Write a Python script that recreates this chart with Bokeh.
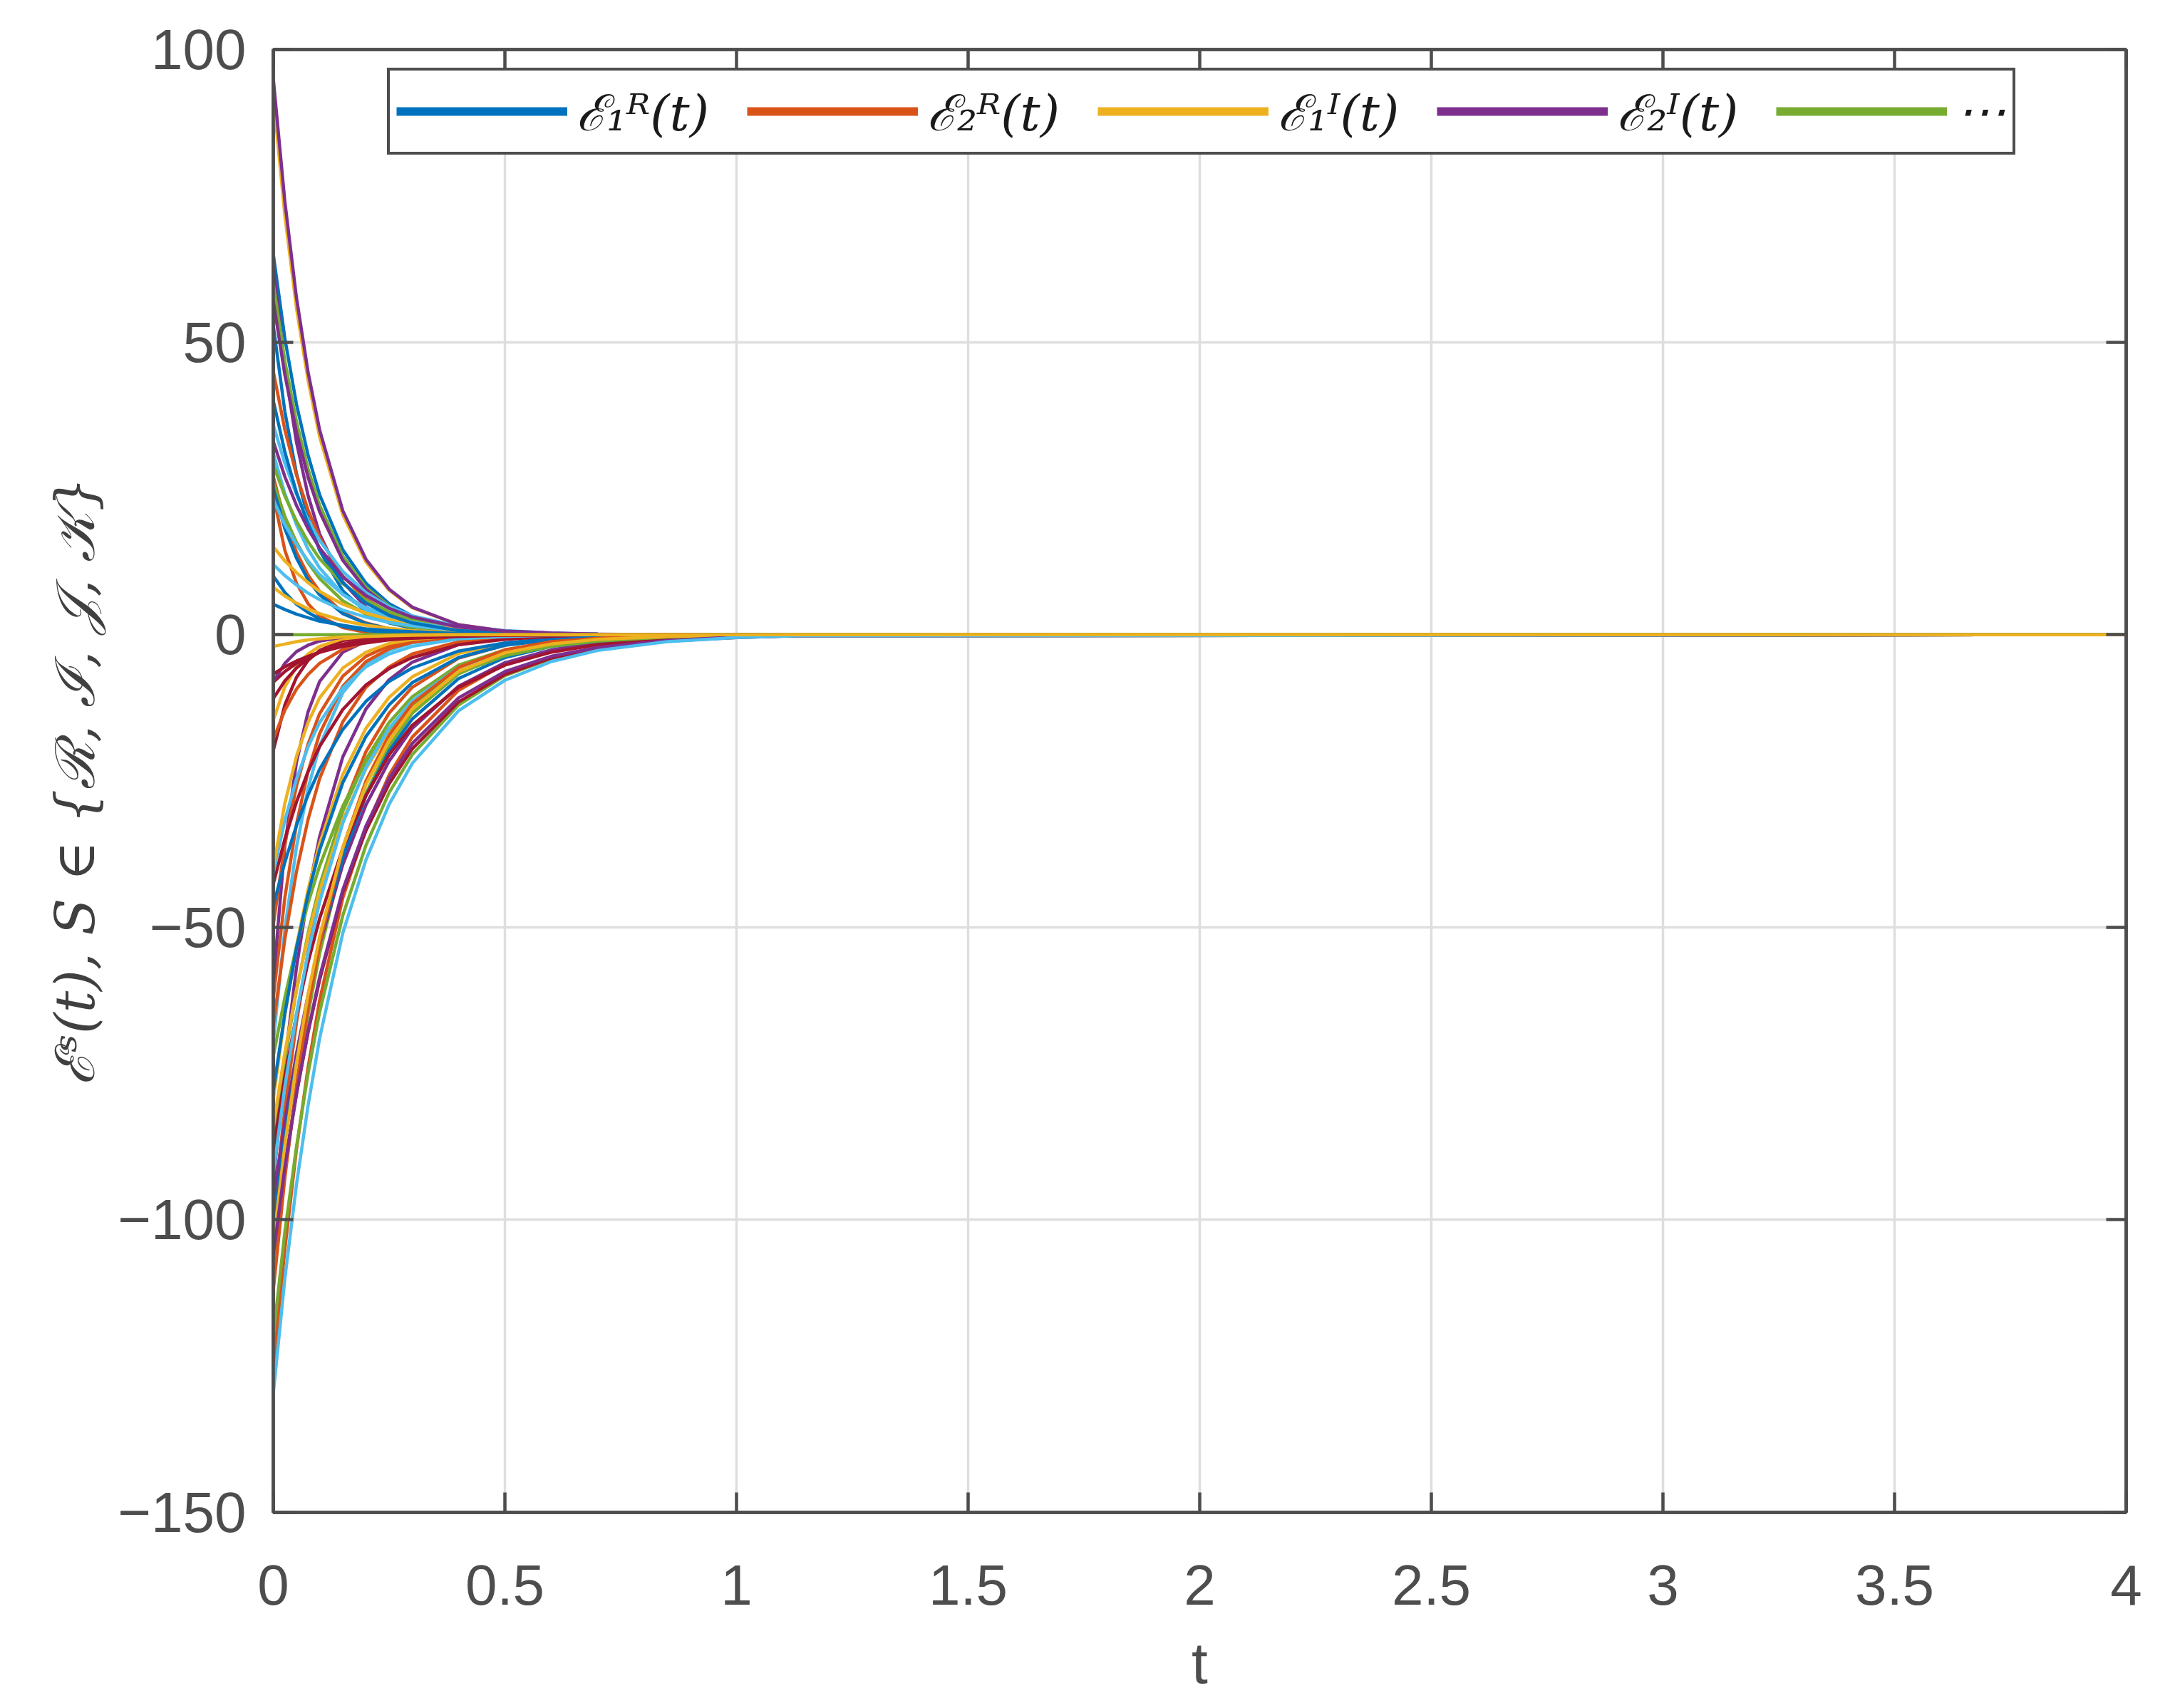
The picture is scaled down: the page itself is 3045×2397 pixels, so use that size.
from bokeh.plotting import figure
from bokeh.models import Range1d, FixedTicker, LinearAxis, Legend, LegendItem
from bokeh.embed import file_html
from bokeh.resources import INLINE

# ---------------- data ----------------
t_values = [0, 0.025, 0.05, 0.075, 0.1, 0.15, 0.2, 0.25, 0.3, 0.4, 0.5, 0.6, 0.7, 0.85, 1.0, 1.13, 4.0]

palette = {"b": "#0072BD", "o": "#D95319", "y": "#EDB120", "p": "#7E2F8E",
           "g": "#77AC30", "c": "#4DBEEE", "r": "#A2142F"}

positive_colors = ["y", "b", "p", "g", "p", "b", "o", "c", "c", "g", "o", "g", "b", "o", "c",
                   "y", "c", "b", "y", "b", "b", "p", "p"]
positive_curves = [
    [92, 71.6, 55.8, 43.5, 33.8, 20.5, 12.4, 7.6, 4.6, 1.7, 0.6, 0.2, 0.1, 0, 0, 0, 0],
    [65, 50.6, 39.4, 30.7, 23.9, 14.5, 8.8, 5.3, 3.2, 1.2, 0.4, 0.2, 0.1, 0, 0, 0, 0],
    [63, 45.5, 32.9, 23.8, 17.2, 9.0, 4.7, 2.4, 1.3, 0.3, 0.1, 0, 0, 0, 0, 0, 0],
    [60, 46.7, 36.4, 28.3, 22.1, 13.4, 8.1, 4.9, 3.0, 1.1, 0.4, 0.2, 0.1, 0, 0, 0, 0],
    [57, 44.4, 34.6, 26.9, 21.0, 12.7, 7.7, 4.7, 2.8, 1.0, 0.4, 0.1, 0.1, 0, 0, 0, 0],
    [52.8, 38.1, 27.6, 19.9, 14.4, 7.5, 3.9, 2.0, 1.1, 0.3, 0.1, 0, 0, 0, 0, 0, 0],
    [45, 35.0, 27.3, 21.3, 16.6, 10.0, 6.1, 3.7, 2.2, 0.8, 0.3, 0.1, 0, 0, 0, 0, 0],
    [35.8, 29.3, 24.0, 19.6, 16.1, 10.8, 7.2, 4.8, 3.2, 1.5, 0.7, 0.3, 0.1, 0, 0, 0, 0],
    [31, 24.1, 18.8, 14.6, 11.4, 6.9, 4.2, 2.5, 1.5, 0.6, 0.2, 0.1, 0, 0, 0, 0, 0],
    [29, 23.7, 19.4, 15.9, 13.0, 8.7, 5.9, 3.9, 2.6, 1.2, 0.5, 0.2, 0.1, 0, 0, 0, 0],
    [27, 19.5, 14.1, 10.2, 7.4, 3.8, 2.0, 1.0, 0.5, 0.1, 0, 0, 0, 0, 0, 0, 0],
    [26, 20.2, 15.8, 12.3, 9.6, 5.8, 3.5, 2.1, 1.3, 0.5, 0.2, 0.1, 0, 0, 0, 0, 0],
    [25, 18.1, 13.1, 9.4, 6.8, 3.6, 1.9, 1.0, 0.5, 0.1, 0, 0, 0, 0, 0, 0, 0],
    [23.8, 14.4, 8.8, 5.3, 3.2, 1.2, 0.4, 0.2, 0.1, 0, 0, 0, 0, 0, 0, 0, 0],
    [23, 18.8, 15.4, 12.6, 10.3, 6.9, 4.6, 3.1, 2.1, 0.9, 0.4, 0.2, 0.1, 0, 0, 0, 0],
    [15, 12.6, 10.6, 8.9, 7.4, 5.2, 3.7, 2.6, 1.8, 0.9, 0.5, 0.2, 0.1, 0, 0, 0, 0],
    [12, 10.1, 8.5, 7.1, 6.0, 4.2, 3.0, 2.1, 1.5, 0.7, 0.4, 0.2, 0.1, 0, 0, 0, 0],
    [10, 7.2, 5.2, 3.8, 2.7, 1.4, 0.7, 0.4, 0.2, 0.1, 0, 0, 0, 0, 0, 0, 0],
    [8.1, 6.6, 5.4, 4.4, 3.6, 2.4, 1.6, 1.1, 0.7, 0.3, 0.1, 0.1, 0, 0, 0, 0, 0],
    [5.2, 4.3, 3.5, 2.9, 2.3, 1.6, 1.0, 0.7, 0.5, 0.2, 0.1, 0, 0, 0, 0, 0, 0],
    [40, 31.2, 24.3, 18.9, 14.7, 8.9, 5.4, 3.3, 2.0, 0.7, 0.3, 0.1, 0, 0, 0, 0, 0],
    [33, 27.0, 22.1, 18.1, 14.8, 9.9, 6.7, 4.5, 3.0, 1.3, 0.6, 0.3, 0.1, 0, 0, 0, 0],
    [95, 74.0, 57.6, 44.9, 35.0, 21.2, 12.9, 7.8, 4.7, 1.7, 0.6, 0.2, 0.1, 0, 0, 0, 0],
]

negative_colors = ["o", "g", "g", "r", "o", "p", "p", "g", "y", "c", "o", "o", "p", "o", "b",
                   "r", "c", "y", "r", "o", "y", "r", "r", "p", "r", "b", "r", "y", "g", "c",
                   "b", "o", "y", "p", "c", "g", "y"]
negative_curves = [
    [-125, -105, -88, -74, -62.5, -45, -33, -24, -17.5, -9.5, -5, -2.7, -1.4, -0.5, -0.2, -0.1, 0],
    [-119.9, -102, -87.5, -75, -64.5, -48, -36, -27, -20.5, -12, -7, -4.1, -2.4, -1.0, -0.4, -0.2, 0],
    [-109.7, -92, -77.3, -64.9, -54.5, -38.4, -27.1, -19.1, -13.4, -6.7, -3.3, -1.6, -0.8, -0.3, -0.1, 0, 0],
    [-104.5, -90.5, -78.5, -68, -59, -44, -33.5, -25.5, -19.5, -11.5, -6.8, -4.0, -2.4, -1.1, -0.5, -0.2, 0],
    [-98.9, -81, -66.3, -54.3, -44.4, -29.8, -20, -13.4, -9, -4, -1.8, -0.8, -0.4, -0.1, 0, 0, 0],
    [-96.6, -83.1, -71.6, -61.6, -53, -39.3, -29.1, -21.6, -16, -8.8, -4.8, -2.6, -1.4, -0.6, -0.2, -0.1, 0],
    [-93.8, -73, -56.9, -44.3, -34.5, -20.9, -12.7, -7.7, -4.7, -1.7, -0.6, -0.2, -0.1, 0, 0, 0, 0],
    [-86.3, -72.4, -60.8, -51.1, -42.9, -30.2, -21.3, -15, -10.6, -5.2, -2.6, -1.3, -0.6, -0.2, -0.1, 0, 0],
    [-79.4, -65, -53.2, -43.6, -35.7, -23.9, -16, -10.7, -7.2, -3.2, -1.5, -0.7, -0.3, -0.1, 0, 0, 0],
    [-69.6, -50.3, -36.3, -26.3, -19, -9.9, -5.2, -2.7, -1.4, -0.4, -0.1, 0, 0, 0, 0, 0, 0],
    [-66.8, -52, -40.5, -31.6, -24.6, -14.9, -9.0, -5.5, -3.3, -1.2, -0.4, -0.2, -0.1, 0, 0, 0, 0],
    [-62.1, -44.9, -32.4, -23.4, -16.9, -8.8, -4.6, -2.4, -1.3, -0.3, -0.1, 0, 0, 0, 0, 0, 0],
    [-59.3, -36, -21.8, -13.2, -8, -3, -1.1, -0.4, -0.1, 0, 0, 0, 0, 0, 0, 0, 0],
    [-49.6, -35.8, -25.9, -18.7, -13.5, -7.1, -3.7, -1.9, -1, -0.3, -0.1, 0, 0, 0, 0, 0, 0],
    [-46.3, -38.9, -32.6, -27.4, -23, -16.2, -11.4, -8, -5.7, -2.8, -1.4, -0.7, -0.3, -0.1, 0, 0, 0],
    [-42.6, -34.9, -28.6, -23.4, -19.1, -12.8, -8.6, -5.8, -3.9, -1.7, -0.8, -0.3, -0.2, 0, 0, 0, 0],
    [-40.7, -31.7, -24.7, -19.2, -15, -9.1, -5.5, -3.3, -2, -0.7, -0.3, -0.1, 0, 0, 0, 0, 0],
    [-39.8, -28.8, -20.8, -15, -10.8, -5.7, -3, -1.5, -0.8, -0.2, -0.1, 0, 0, 0, 0, 0, 0],
    [-19.8, -12, -7.3, -4.4, -2.7, -1, -0.4, -0.1, 0, 0, 0, 0, 0, 0, 0, 0, 0],
    [-17.9, -12.9, -9.3, -6.8, -4.9, -2.5, -1.3, -0.7, -0.4, -0.1, 0, 0, 0, 0, 0, 0, 0],
    [-14.6, -8.9, -5.4, -3.3, -2, -0.7, -0.3, -0.1, 0, 0, 0, 0, 0, 0, 0, 0, 0],
    [-10.9, -7.9, -5.7, -4.1, -3, -1.6, -0.8, -0.4, -0.2, -0.1, 0, 0, 0, 0, 0, 0, 0],
    [-8.1, -6.3, -4.9, -3.8, -3, -1.8, -1.1, -0.7, -0.4, -0.1, -0.1, 0, 0, 0, 0, 0, 0],
    [-8, -4.9, -2.9, -1.8, -1.1, -0.4, -0.1, 0, 0, 0, 0, 0, 0, 0, 0, 0, 0],
    [-6.7, -5.5, -4.5, -3.7, -3, -2, -1.4, -0.9, -0.6, -0.3, -0.1, -0.1, 0, 0, 0, 0, 0],
    [-101, -85.9, -73, -62, -52.7, -38.1, -27.5, -19.9, -14.4, -7.5, -3.9, -2, -1.1, -0.4, -0.2, -0.1, 0],
    [-88, -75.5, -65, -56, -48.5, -36.5, -27.5, -20.5, -15.5, -9, -5.2, -3, -1.7, -0.8, -0.3, -0.1, 0],
    [-84, -71.4, -60.7, -51.6, -43.8, -31.7, -22.9, -16.5, -12, -6.2, -3.3, -1.7, -0.9, -0.3, -0.1, 0, 0],
    [-72, -62, -53.3, -45.9, -39.5, -29.3, -21.7, -16.1, -11.9, -6.5, -3.6, -2, -1.1, -0.4, -0.2, -0.1, 0],
    [-92, -77.2, -64.8, -54.4, -45.7, -32.2, -22.7, -16, -11.3, -5.6, -2.8, -1.4, -0.7, -0.2, -0.1, 0, 0],
    [-78, -64.7, -53.6, -44.4, -36.8, -25.3, -17.4, -12, -8.2, -3.9, -1.8, -0.9, -0.4, -0.1, 0, 0, 0],
    [-112, -92.8, -77, -63.8, -52.9, -36.4, -25, -17.2, -11.8, -5.6, -2.6, -1.2, -0.6, -0.2, -0.1, 0, 0],
    [-104, -87.3, -73.3, -61.5, -51.6, -36.4, -25.6, -18.1, -12.7, -6.3, -3.1, -1.6, -0.8, -0.3, -0.1, 0, 0],
    [-106, -91, -78.5, -67.8, -58.5, -43.6, -32.7, -24.6, -18.6, -10.8, -6.3, -3.7, -2.2, -1, -0.4, -0.2, 0],
    [-129.7, -110, -94, -80.5, -69, -51, -38.5, -29, -22, -13, -7.8, -4.6, -2.7, -1.2, -0.5, -0.2, 0],
    [0, 0, 0, 0, 0, 0, 0, 0, 0, 0, 0, 0, 0, 0, 0, 0, 0],
    [-2, -1.6, -1.2, -0.9, -0.7, -0.4, -0.3, -0.2, -0.1, 0, 0, 0, 0, 0, 0, 0, 0],
]

x_ticks = [0, 0.5, 1, 1.5, 2, 2.5, 3, 3.5, 4]
x_tick_labels = ["0", "0.5", "1", "1.5", "2", "2.5", "3", "3.5", "4"]
y_ticks = [-150, -100, -50, 0, 50, 100]
y_tick_labels = ["\u2212150", "\u2212100", "\u221250", "0", "50", "100"]

legend_colors = ["b", "o", "y", "p", "g"]
legend_labels = ["\u2130\u2081\u1d3f(t)", "\u2130\u2082\u1d3f(t)", "\u2130\u2081\u1d35(t)",
                 "\u2130\u2082\u1d35(t)", "\u22ef"]

# ---------------- figure ----------------
AX = "#4d4d4d"
p = figure(width=3029, height=2381, output_backend="svg", toolbar_location=None,
           x_range=Range1d(0, 4), y_range=Range1d(-150, 100),
           min_border_left=383, min_border_right=46, min_border_top=69, min_border_bottom=259,
           x_axis_label="t",
           y_axis_label="\u2130\u02e2(t), S \u2208 {\u211b, \u2110, \U0001d4a5, \U0001d4a6}")
p.background_fill_color = "white"
p.border_fill_color = "white"
p.outline_line_color = AX
p.outline_line_width = 4.5

for c, ys in zip(positive_colors, positive_curves):
    p.line(t_values, ys, line_color=palette[c], line_width=4.5)
for c, ys in zip(negative_colors, negative_curves):
    p.line(t_values, ys, line_color=palette[c], line_width=4.5)

# grid
p.xgrid.ticker = FixedTicker(ticks=x_ticks)
p.ygrid.ticker = FixedTicker(ticks=y_ticks)
for g in (p.xgrid, p.ygrid):
    g.grid_line_color = "#dedede"
    g.grid_line_width = 3.5

def style_axis(ax, ticks, labels, show_labels=True):
    ax.ticker = FixedTicker(ticks=ticks)
    ax.axis_line_color = AX
    ax.axis_line_width = 4.5
    ax.major_tick_line_color = AX
    ax.major_tick_line_width = 4.5
    ax.major_tick_in = 28
    ax.major_tick_out = 0
    ax.minor_tick_line_color = None
    ax.major_label_text_font = "Liberation Sans"
    ax.major_label_text_color = AX
    if show_labels:
        ax.major_label_overrides = {k: v for k, v in zip(ticks, labels)}
        ax.major_label_text_font_size = "80px"
    else:
        ax.major_label_overrides = {k: "" for k in ticks}
        ax.major_label_text_font_size = "10px"
        ax.major_label_standoff = 0

style_axis(p.xaxis[0], x_ticks, x_tick_labels)
style_axis(p.yaxis[0], y_ticks, y_tick_labels)
p.xaxis[0].major_label_standoff = 74
p.yaxis[0].major_label_standoff = 38

p.xaxis[0].axis_label_text_font = "Liberation Sans"
p.xaxis[0].axis_label_text_font_size = "82px"
p.xaxis[0].axis_label_text_font_style = "normal"
p.xaxis[0].axis_label_text_color = AX
p.xaxis[0].axis_label_standoff = 33

p.yaxis[0].axis_label_text_font = "DejaVu Serif"
p.yaxis[0].axis_label_text_font_size = "76px"
p.yaxis[0].axis_label_text_font_style = "italic"
p.yaxis[0].axis_label_text_color = "#404040"
p.yaxis[0].axis_label_standoff = 12

top_axis = LinearAxis()
right_axis = LinearAxis()
style_axis(top_axis, x_ticks, x_tick_labels, show_labels=False)
style_axis(right_axis, y_ticks, y_tick_labels, show_labels=False)
p.add_layout(top_axis, "above")
p.add_layout(right_axis, "right")

# legend (thick sample lines; one undefined point so the legend glyph is drawn)
items = []
for c, lbl in zip(legend_colors, legend_labels):
    r = p.line([float("nan")], [float("nan")], line_color=palette[c], line_width=12)
    items.append(LegendItem(label=lbl, renderers=[r]))
legend = Legend(items=items, orientation="horizontal", location=(160, 1905),
                border_line_color=AX, border_line_width=4.5, border_line_alpha=1.0,
                padding=9, margin=0,
                spacing=53, label_standoff=13, glyph_width=240, glyph_height=60,
                label_height=60, label_text_font="DejaVu Serif",
                label_text_font_style="italic", label_text_font_size="70px",
                label_text_color="#1a1a1a", background_fill_color="white",
                background_fill_alpha=1.0)
p.add_layout(legend)

open("out.html", "w").write(file_html(p, INLINE))
